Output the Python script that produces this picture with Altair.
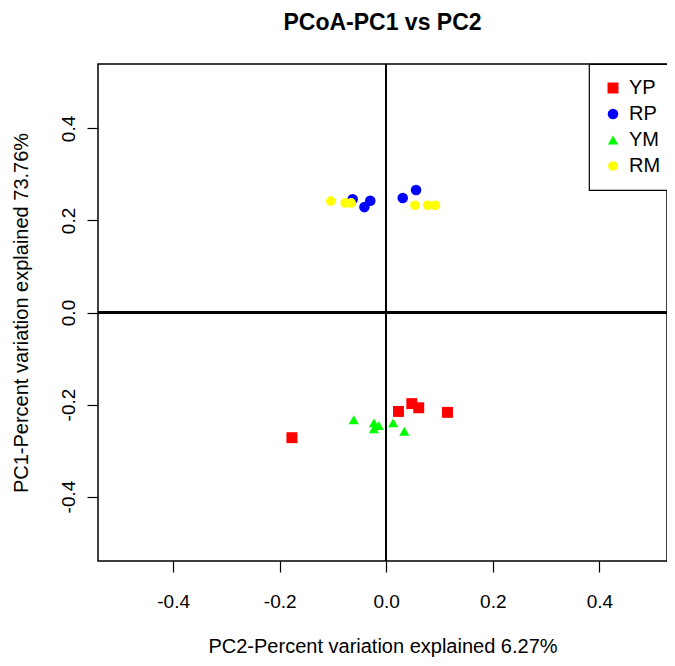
import altair as alt
import pandas as pd

groups = ["YP", "RP", "YM", "RM"]
colors = ["#FF0000", "#0000FF", "#00FF00", "#FFFF00"]
shapes = ["square", "circle", "triangle-up", "circle"]
sizes = [120, 95, 160, 75]

yp_x = [-0.177, 0.023, 0.048, 0.061, 0.115]
yp_y = [-0.272, -0.215, -0.198, -0.207, -0.217]
rp_x = [-0.063, -0.030, -0.041, 0.031, 0.056]
rp_y = [0.246, 0.243, 0.229, 0.249, 0.266]
ym_x = [-0.061, -0.023, -0.014, -0.023, 0.013, 0.034]
ym_y = [-0.233, -0.240, -0.246, -0.253, -0.240, -0.258]
rm_x = [-0.104, -0.077, -0.066, 0.054, 0.078, 0.092]
rm_y = [0.242, 0.238, 0.238, 0.233, 0.233, 0.233]

tick_values = [-0.4, -0.2, 0.0, 0.2, 0.4]
x_title = "PC2-Percent variation explained 6.27%"
y_title = "PC1-Percent variation explained 73.76%"
chart_title = "PCoA-PC1 vs PC2"

rows = []
for g, xs_, ys_ in [("YP", yp_x, yp_y), ("RP", rp_x, rp_y), ("YM", ym_x, ym_y), ("RM", rm_x, rm_y)]:
    for a, b in zip(xs_, ys_):
        rows.append({"group": g, "pc2": a, "pc1": b})
df = pd.DataFrame(rows)

FONT = "Liberation Sans"
label_expr = "(datum.value < -0.0001 ? '-' : '') + format(abs(datum.value), '.1f')"

x_axis = alt.Axis(
    values=tick_values, labelExpr=label_expr, title=x_title, grid=False, domain=False,
    tickColor="black", tickWidth=1.2, tickSize=11, labelFont=FONT, labelFontSize=19,
    labelColor="black", labelBaseline="alphabetic", labelPadding=35,
    titleFont=FONT, titleFontSize=20, titleFontWeight="normal", titleColor="black",
    titleBaseline="alphabetic", titleY=91,
)
y_axis = alt.Axis(
    values=tick_values, labelExpr=label_expr, title=y_title, grid=False, domain=False,
    tickColor="black", tickWidth=1.2, tickSize=11, labelFont=FONT, labelFontSize=19,
    labelColor="black", labelAngle=270, labelAlign="center", labelBaseline="alphabetic",
    labelPadding=13,
    titleFont=FONT, titleFontSize=20, titleFontWeight="normal", titleColor="black",
    titleAngle=270, titleAlign="center", titleBaseline="alphabetic", titleX=-71, titleY=248.5,
)

xs = alt.Scale(domain=[-0.541, 0.527], nice=False, zero=False)
ys = alt.Scale(domain=[-0.54, 0.54], nice=False, zero=False)

points = alt.Chart(df).mark_point(filled=True, opacity=1, strokeWidth=0).encode(
    x=alt.X("pc2:Q", scale=xs, axis=x_axis),
    y=alt.Y("pc1:Q", scale=ys, axis=y_axis),
    color=alt.Color("group:N", scale=alt.Scale(domain=groups, range=colors),
                    legend=alt.Legend(title=None, orient="none", legendX=491, legendY=0,
                                      fillColor="white", strokeColor="black",
                                      padding=14, rowPadding=6, labelOffset=6,
                                      labelFont=FONT, labelFontSize=20, labelColor="black",
                                      symbolSize=80, symbolStrokeWidth=0)),
    shape=alt.Shape("group:N", scale=alt.Scale(domain=groups, range=shapes)),
    size=alt.Size("group:N", scale=alt.Scale(domain=groups, range=sizes), legend=None),
)

vline = alt.Chart(df).mark_rule(color="black", strokeWidth=1.5).encode(x=alt.datum(0, scale=xs))
hline = alt.Chart(df).mark_rule(color="black", strokeWidth=1.5).encode(y=alt.datum(0, scale=ys))

chart = alt.layer(vline, hline, points).properties(
    width=569, height=497,
    title=alt.TitleParams(chart_title, font=FONT, fontSize=23, fontWeight="bold",
                          color="black", anchor="middle", offset=28),
    autosize=alt.AutoSizeParams(type="none"),
    padding={"left": 90, "top": 56, "right": 0, "bottom": 96},
).configure(
    background="white",
    view=alt.ViewConfig(stroke="black", strokeWidth=1.5),
    legend=alt.LegendConfig(strokeWidth=1.2),
)

chart.save("out.html", embed_options={"renderer": "svg", "actions": False})
